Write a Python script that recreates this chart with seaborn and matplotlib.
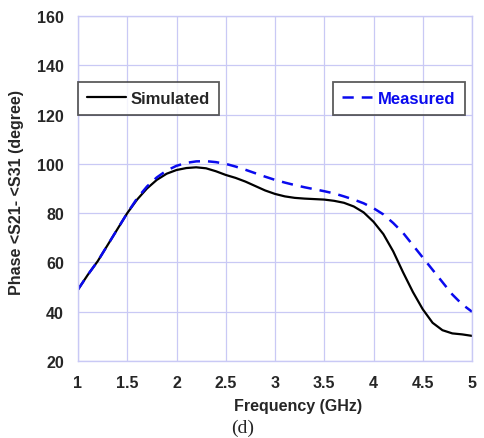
import numpy as np
import pandas as pd
import matplotlib
matplotlib.use("Agg")
import matplotlib.pyplot as plt
import seaborn as sns

freq = [1.0, 1.1, 1.2, 1.3, 1.4, 1.5, 1.6, 1.7, 1.8, 1.9, 2.0, 2.1, 2.2, 2.3, 2.4, 2.5,
        2.6, 2.7, 2.8, 2.9, 3.0, 3.1, 3.2, 3.3, 3.4, 3.5, 3.6, 3.7, 3.8, 3.9, 4.0, 4.1,
        4.2, 4.3, 4.4, 4.5, 4.6, 4.7, 4.8, 4.9, 5.0]
simulated = [49, 55, 60.5, 67, 73.5, 80, 85.5, 90, 93.5, 96, 97.5, 98.3, 98.6, 98.2, 97, 95.5,
             94.3, 92.8, 91, 89.2, 87.8, 86.8, 86.2, 85.9, 85.7, 85.5, 85, 84.2, 82.7, 80.3, 76.5, 71.5,
             64.5, 56, 48, 41, 35.5, 32.5, 31.2, 30.8, 30.2]
measured = [49, 55, 60.5, 67, 73.5, 80, 86, 90.8, 94.5, 97.3, 99.2, 100.4, 101, 101.1, 100.7, 100,
            98.9, 97.6, 96.2, 94.8, 93.5, 92.4, 91.4, 90.5, 89.7, 88.9, 88, 86.8, 85.5, 84, 82, 79.5,
            76, 72, 67, 62, 57, 52, 47, 43, 40]
x_ticks = [1, 1.5, 2, 2.5, 3, 3.5, 4, 4.5, 5]
x_tick_labels = ["1", "1.5", "2", "2.5", "3", "3.5", "4", "4.5", "5"]
y_ticks = [20, 40, 60, 80, 100, 120, 140, 160]

sns.set_style("white")
plt.rcParams['font.family'] = ['Liberation Sans', 'DejaVu Sans']

fig = plt.figure(figsize=(4.84, 4.39), dpi=100)
ax = fig.add_axes([78/484, 77/439, 394/484, 345/439])

grid_c = "#c9c9f5"
sns.lineplot(x=freq, y=simulated, ax=ax, color="black", linewidth=1.6, label="Simulated")
sns.lineplot(x=freq, y=measured, ax=ax, color="#0a0aee", linewidth=1.8,
             linestyle=(0, (4.5, 3.2)), label="Measured")

ax.set_xlim(1, 5)
ax.set_ylim(20, 160)
ax.set_xticks(x_ticks)
ax.set_xticklabels(x_tick_labels)
ax.set_yticks(y_ticks)
ax.grid(True, color=grid_c, linewidth=0.9)
for s in ax.spines.values():
    s.set_color(grid_c)
    s.set_linewidth(1.0)
ax.tick_params(axis='both', length=0, labelsize=11.5, pad=10)
for lab in ax.get_xticklabels() + ax.get_yticklabels():
    lab.set_fontweight('bold')

ax.set_xlabel("Frequency (GHz)", fontsize=11.5, fontweight='bold')
ax.xaxis.set_label_coords(0.559, -0.106)
ax.set_ylabel("Phase <S21- <S31 (degree)", fontsize=11.5, fontweight='bold')
ax.yaxis.set_label_coords(-0.138, 0.49)

lines = ax.get_lines()
if ax.get_legend() is not None:
    ax.get_legend().remove()
sim_line = [l for l in lines if l.get_label() == "Simulated"][0]
mea_line = [l for l in lines if l.get_label() == "Measured"][0]

leg1 = ax.legend([sim_line], ["Simulated"], loc='upper left', bbox_to_anchor=(0.0, 0.809),
                 borderaxespad=0, frameon=True, fancybox=False, handlelength=2.35,
                 handletextpad=0.25, borderpad=0.55,
                 prop={'weight': 'bold', 'size': 12})
leg1.get_frame().set_edgecolor("#333333")
leg1.get_frame().set_linewidth(1.3)
ax.add_artist(leg1)

leg2 = ax.legend([mea_line], ["Measured"], loc='upper right', bbox_to_anchor=(0.982, 0.809),
                 borderaxespad=0, frameon=True, fancybox=False, handlelength=1.8,
                 handletextpad=0.35, borderpad=0.55,
                 prop={'weight': 'bold', 'size': 12})
leg2.get_frame().set_edgecolor("#333333")
leg2.get_frame().set_linewidth(1.3)
for t in leg2.get_texts():
    t.set_color("#0a0aee")

fig.text(243/484, 1 - 428/439, "(d)", ha='center', va='center', fontsize=14,
         family=['Liberation Serif', 'DejaVu Serif'])

fig.savefig("out.png", dpi=100, facecolor='white')
